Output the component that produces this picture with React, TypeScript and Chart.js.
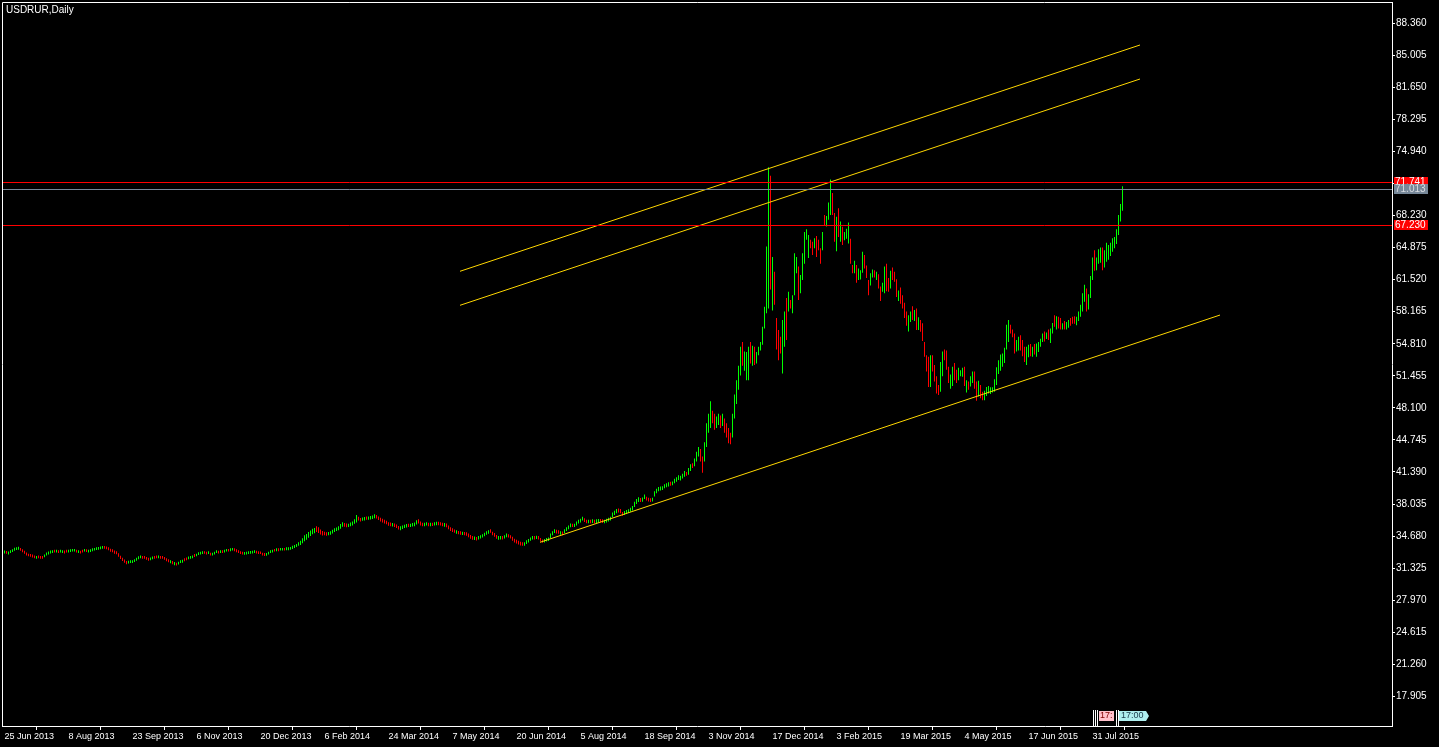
import { useEffect, useRef } from 'react';
import { Chart, registerables } from 'chart.js';

Chart.register(...registerables);

// one chunk per date label (32 daily bars each)
const dateLabels = [
  '25 Jun 2013', '8 Aug 2013', '23 Sep 2013', '6 Nov 2013', '20 Dec 2013', '6 Feb 2014',
  '24 Mar 2014', '7 May 2014', '20 Jun 2014', '5 Aug 2014', '18 Sep 2014', '3 Nov 2014',
  '17 Dec 2014', '3 Feb 2015', '19 Mar 2015', '4 May 2015', '17 Jun 2015', '31 Jul 2015',
];

const priceTicks = [
  88.36, 85.005, 81.65, 78.295, 74.94, 71.585, 68.23, 64.875, 61.52, 58.165, 54.81,
  51.455, 48.1, 44.745, 41.39, 38.035, 34.68, 31.325, 27.97, 24.615, 21.26, 17.905,
];

const lowsJun13 = [32.86, 32.84, 32.76, 32.9, 33.02, 33.14, 33.22, 33.24, 33.14, 33.0, 32.84, 32.66, 32.56, 32.52, 32.44, 32.36, 32.3, 32.36, 32.3, 32.32, 32.46, 32.66, 32.76, 32.86, 32.9, 32.96, 32.96, 32.9, 32.96, 32.9, 32.86, 32.96];
const highsJun13 = [33.16, 33.12, 33.06, 33.2, 33.3, 33.46, 33.5, 33.56, 33.44, 33.3, 33.14, 32.96, 32.84, 32.8, 32.74, 32.64, 32.6, 32.66, 32.6, 32.6, 32.76, 32.96, 33.06, 33.16, 33.2, 33.26, 33.24, 33.2, 33.26, 33.2, 33.16, 33.26];
const dirsJun13 = 'uduuuuuu dddddddd uddduuuu ududuudd';

const lowsAug13 = [32.96, 33.02, 33.06, 33.06, 32.96, 32.92, 32.86, 32.96, 33.06, 33.02, 32.96, 33.02, 33.1, 33.16, 33.22, 33.26, 33.3, 33.36, 33.36, 33.3, 33.2, 33.04, 33.0, 32.84, 32.78, 32.52, 32.28, 32.08, 31.88, 31.72, 31.8, 31.86];
const highsAug13 = [33.26, 33.3, 33.34, 33.34, 33.24, 33.2, 33.14, 33.24, 33.34, 33.3, 33.24, 33.3, 33.4, 33.44, 33.5, 33.54, 33.6, 33.64, 33.64, 33.6, 33.5, 33.36, 33.3, 33.16, 33.1, 32.88, 32.62, 32.42, 32.22, 32.06, 32.1, 32.14];
const dirsAug13 = 'uuuududd uduuuuuu uudddddd dddddduu';

const lowsSep13 = [31.86, 31.96, 32.1, 32.26, 32.36, 32.32, 32.3, 32.2, 32.1, 32.16, 32.26, 32.3, 32.36, 32.36, 32.3, 32.32, 32.2, 32.04, 31.94, 31.84, 31.74, 31.64, 31.6, 31.7, 31.86, 31.9, 32.04, 32.16, 32.26, 32.3, 32.36, 32.5];
const highsSep13 = [32.14, 32.26, 32.4, 32.56, 32.64, 32.6, 32.6, 32.5, 32.4, 32.44, 32.54, 32.6, 32.64, 32.64, 32.6, 32.6, 32.5, 32.36, 32.26, 32.16, 32.06, 31.96, 31.9, 32.0, 32.14, 32.2, 32.36, 32.44, 32.54, 32.6, 32.64, 32.8];
const dirsSep13 = 'uuuuuddd duuddudd dddududu uudduuud';

const lowsNov13 = [32.56, 32.7, 32.76, 32.8, 32.82, 32.76, 32.8, 32.66, 32.66, 32.76, 32.9, 32.86, 32.9, 32.9, 32.96, 33.06, 33.06, 33.1, 33.16, 33.1, 33.0, 32.9, 32.8, 32.76, 32.72, 32.76, 32.8, 32.84, 32.86, 32.9, 32.86, 32.8];
const highsNov13 = [32.84, 33.0, 33.04, 33.1, 33.1, 33.04, 33.1, 32.94, 32.94, 33.04, 33.2, 33.14, 33.2, 33.2, 33.24, 33.34, 33.34, 33.4, 33.44, 33.4, 33.3, 33.2, 33.1, 33.04, 33.02, 33.04, 33.1, 33.12, 33.14, 33.2, 33.14, 33.1];
const dirsNov13 = 'uuuuddud uuududuu duuddddd uuuuuudd';

const lowsDec13 = [32.8, 32.64, 32.6, 32.62, 32.76, 32.9, 32.96, 33.06, 33.1, 33.1, 33.16, 33.16, 33.16, 33.2, 33.2, 33.26, 33.34, 33.44, 33.54, 33.66, 33.76, 33.94, 34.14, 34.3, 34.5, 34.7, 34.86, 34.98, 35.1, 35.0, 34.84, 34.74];
const highsDec13 = [33.08, 32.94, 32.9, 32.92, 33.04, 33.2, 33.24, 33.34, 33.4, 33.4, 33.44, 33.44, 33.44, 33.5, 33.5, 33.54, 33.66, 33.76, 33.86, 34.04, 34.18, 34.46, 34.76, 34.9, 35.1, 35.26, 35.44, 35.54, 35.7, 35.6, 35.36, 35.2];
const dirsDec13 = 'ddduuuud uduuduuu uuuuuuuu uuuudddd';

const lowsFeb14 = [34.76, 34.72, 34.78, 34.82, 34.96, 35.1, 35.22, 35.3, 35.46, 35.66, 35.66, 35.6, 35.62, 35.7, 35.8, 35.96, 36.1, 36.3, 36.22, 36.28, 36.32, 36.38, 36.38, 36.42, 36.46, 36.54, 36.52, 36.36, 36.2, 36.1, 36.0, 35.92];
const highsFeb14 = [35.14, 35.08, 35.12, 35.18, 35.34, 35.5, 35.58, 35.7, 35.94, 36.14, 36.04, 36.0, 35.98, 36.1, 36.2, 36.44, 36.9, 36.7, 36.58, 36.62, 36.68, 36.72, 36.72, 36.78, 36.84, 36.96, 36.88, 36.74, 36.6, 36.5, 36.4, 36.28];
const dirsFeb14 = 'dduuuuuu uudduuuu udduuduu uudddddd';

const lowsMar14 = [35.76, 35.72, 35.68, 35.62, 35.52, 35.36, 35.3, 35.42, 35.52, 35.58, 35.62, 35.62, 35.68, 35.72, 35.9, 36.0, 35.8, 35.72, 35.72, 35.78, 35.72, 35.72, 35.74, 35.78, 35.82, 35.82, 35.78, 35.72, 35.66, 35.6, 35.4, 35.2];
const highsMar14 = [36.14, 36.1, 36.04, 36.0, 35.9, 35.74, 35.7, 35.8, 35.88, 35.94, 35.98, 35.98, 36.04, 36.1, 36.34, 36.44, 36.2, 36.08, 36.08, 36.14, 36.08, 36.08, 36.08, 36.12, 36.18, 36.18, 36.14, 36.08, 36.04, 36.0, 35.8, 35.6];
const dirsMar14 = 'dduddduu uuduuuud dduududu uddduddd';

const lowsMay14 = [35.1, 35.02, 34.92, 34.88, 34.82, 34.8, 34.78, 34.72, 34.56, 34.4, 34.3, 34.26, 34.22, 34.32, 34.42, 34.52, 34.66, 34.82, 34.92, 35.02, 34.76, 34.6, 34.4, 34.3, 34.32, 34.32, 34.42, 34.56, 34.52, 34.42, 34.2, 34.0];
const highsMay14 = [35.5, 35.38, 35.28, 35.22, 35.18, 35.14, 35.12, 35.08, 34.94, 34.8, 34.7, 34.64, 34.58, 34.68, 34.78, 34.88, 35.04, 35.18, 35.28, 35.4, 35.14, 35.0, 34.8, 34.7, 34.68, 34.68, 34.78, 34.94, 34.88, 34.78, 34.6, 34.4];
const dirsMay14 = 'dduddudd ddduduuu uuuddddu uduudddd';

const lowsJun14 = [33.9, 33.8, 33.7, 33.66, 33.66, 33.86, 34.02, 34.18, 34.32, 34.32, 34.38, 34.32, 34.12, 33.98, 34.02, 34.12, 34.16, 34.46, 34.76, 35.0, 34.96, 34.92, 34.82, 34.78, 35.0, 35.2, 35.4, 35.6, 35.62, 35.62, 35.8, 36.0];
const highsJun14 = [34.3, 34.2, 34.1, 34.04, 34.04, 34.24, 34.38, 34.52, 34.68, 34.68, 34.72, 34.68, 34.48, 34.32, 34.38, 34.48, 34.54, 34.94, 35.18, 35.4, 35.34, 35.28, 35.18, 35.16, 35.4, 35.6, 35.8, 36.0, 35.98, 35.98, 36.2, 36.4];
const dirsJun14 = 'dddduuuu ududdduu uuuuddud uuuuduuu';

const lowsAug14 = [36.1, 36.3, 36.16, 36.02, 36.02, 36.02, 36.06, 36.02, 36.06, 36.12, 36.12, 36.06, 36.02, 36.1, 36.2, 36.3, 36.66, 36.88, 37.08, 37.14, 37.08, 36.8, 36.9, 37.0, 37.1, 37.24, 37.36, 37.72, 38.04, 38.26, 38.24, 38.28];
const highsAug14 = [36.5, 36.7, 36.54, 36.38, 36.38, 36.38, 36.44, 36.38, 36.44, 36.48, 36.48, 36.44, 36.38, 36.5, 36.6, 36.7, 37.14, 37.32, 37.52, 37.56, 37.52, 37.2, 37.3, 37.4, 37.5, 37.66, 37.84, 38.28, 38.56, 38.74, 38.66, 38.72];
const dirsAug14 = 'uuddudud uudduuuu uuuddduu uuuuuudu';

const lowsSep14 = [38.56, 38.4, 38.3, 38.26, 38.3, 38.82, 39.16, 39.38, 39.44, 39.5, 39.68, 39.8, 39.88, 39.94, 40.0, 40.22, 40.36, 40.56, 40.5, 40.7, 40.9, 41.0, 41.1, 41.5, 41.8, 42.0, 42.5, 43.0, 42.5, 41.3, 42.5, 44.0];
const highsSep14 = [39.04, 38.8, 38.7, 38.64, 38.7, 39.38, 39.64, 39.82, 39.86, 39.9, 40.12, 40.2, 40.32, 40.36, 40.4, 40.68, 40.84, 41.04, 41.0, 41.2, 41.5, 41.4, 41.8, 42.2, 42.3, 42.8, 43.5, 44.0, 43.8, 43.0, 44.5, 46.5];
const dirsSep14 = 'uddduuuu uuuuuduu uuuuuduu duuudduu';

const lowsNov14 = [45.5, 46.0, 46.5, 45.8, 46.0, 46.3, 46.0, 46.2, 45.5, 45.0, 44.4, 44.3, 45.0, 47.0, 48.5, 50.0, 51.5, 52.5, 52.0, 51.0, 51.0, 52.75, 52.5, 52.6, 52.75, 53.6, 54.1, 54.7, 56.4, 58.0, 58.5, 60.5];
const highsNov14 = [47.5, 48.8, 47.8, 47.5, 47.2, 47.5, 47.3, 47.5, 47.0, 46.5, 46.0, 45.5, 47.5, 49.5, 51.0, 52.5, 54.5, 55.0, 54.0, 53.95, 54.5, 55.0, 54.6, 54.5, 53.95, 54.5, 55.0, 56.6, 58.7, 65.0, 73.3, 72.4];
const dirsNov14 = 'uudduudu dddduuuu uduuudud uuuuuuud';

const lowsDec14 = [58.3, 58.9, 54.2, 53.1, 53.8, 51.7, 54.5, 55.2, 58.2, 58.5, 58.0, 59.9, 62.2, 59.4, 60.1, 61.5, 63.2, 65.7, 63.8, 64.8, 64.1, 64.8, 63.9, 64.6, 63.2, 64.6, 67.2, 67.1, 67.8, 68.3, 68.3, 65.5];
const highsDec14 = [63.9, 62.35, 57.5, 56.25, 55.55, 57.3, 58.2, 59.6, 60.25, 59.4, 59.9, 64.3, 63.9, 62.9, 62.0, 64.3, 66.5, 66.8, 66.2, 65.7, 65.5, 65.85, 66.1, 65.7, 64.8, 66.5, 68.3, 68.2, 69.6, 72.0, 70.6, 68.5];
const dirsDec14 = 'udddduud uduuuduu uuuddudd duduuudd';

const lowsFeb15 = [64.5, 66.0, 65.5, 65.15, 65.65, 65.8, 65.3, 63.2, 62.2, 62.2, 61.2, 61.5, 61.55, 62.25, 62.7, 61.7, 59.9, 60.9, 61.75, 61.75, 61.5, 60.6, 59.3, 60.25, 60.1, 60.3, 60.25, 60.6, 61.5, 61.3, 59.7, 59.3];
const highsFeb15 = [68.1, 69.0, 67.6, 67.07, 66.5, 66.85, 67.5, 65.8, 63.06, 63.5, 63.06, 62.7, 62.5, 64.45, 64.1, 63.0, 61.5, 62.2, 62.6, 62.5, 62.35, 62.1, 60.8, 61.2, 62.9, 63.2, 61.7, 62.45, 62.8, 62.35, 61.56, 60.4];
const dirsFeb15 = 'ududuuud duduuudd duududdu uddudddu';

const lowsMar15 = [59.0, 58.5, 57.5, 56.7, 56.1, 57.1, 57.3, 57.2, 56.25, 56.25, 56.07, 55.1, 53.45, 51.9, 50.3, 50.3, 51.9, 50.85, 49.6, 49.45, 49.8, 51.4, 53.1, 52.1, 50.7, 50.1, 50.4, 51.0, 50.7, 51.0, 51.4, 51.35];
const highsMar15 = [60.7, 59.9, 59.1, 58.2, 57.8, 58.2, 58.75, 58.35, 58.5, 57.6, 57.3, 56.95, 55.0, 53.6, 53.45, 53.6, 53.6, 52.6, 51.4, 50.5, 52.9, 54.0, 54.2, 54.1, 52.4, 51.6, 52.4, 52.8, 52.1, 52.3, 52.05, 52.3];
const dirsMar15 = 'dddduudu dudddddu dddduudd duudduuu';

const lowsMay15 = [50.4, 49.7, 50.0, 50.35, 50.7, 50.1, 48.85, 49.3, 49.1, 48.9, 48.9, 49.35, 49.6, 49.55, 49.7, 49.8, 50.5, 51.65, 52.0, 52.4, 52.8, 54.2, 55.0, 55.9, 55.5, 53.8, 54.0, 54.1, 54.1, 53.5, 52.9, 52.6];
const highsMay15 = [52.4, 51.0, 50.85, 51.4, 51.9, 51.9, 50.85, 50.95, 50.5, 49.8, 49.9, 50.3, 50.4, 50.25, 50.25, 51.1, 52.35, 53.1, 53.7, 53.8, 54.4, 56.8, 57.3, 56.8, 56.3, 55.9, 55.2, 55.55, 55.7, 55.2, 54.5, 54.5];
const dirsMay15 = 'duduuddu dduuuuuu uuuuuuud dduudddu';

const lowsJun15 = [53.4, 53.5, 53.45, 53.7, 53.45, 53.95, 54.5, 55.0, 55.05, 55.3, 55.2, 54.9, 55.9, 56.6, 56.3, 56.4, 56.3, 56.3, 56.3, 56.3, 56.5, 56.7, 56.9, 56.9, 56.75, 57.2, 57.65, 58.2, 59.2, 58.2, 58.4, 59.6];
const highsJun15 = [54.7, 54.8, 54.5, 54.8, 54.85, 55.0, 55.35, 55.9, 56.1, 56.0, 56.3, 56.4, 57.0, 57.8, 57.7, 57.65, 57.5, 56.95, 57.2, 57.1, 57.3, 57.5, 57.65, 57.7, 57.65, 58.2, 58.9, 60.1, 61.0, 60.6, 60.0, 61.9];
const dirsJun15 = 'ududuuuu duduudud duduuddd uuuuuduu';

const lowsJul15 = [61.5, 62.45, 62.5, 63.2, 63.3, 62.5, 62.8, 63.4, 63.6, 64.0, 64.45, 64.8, 65.25, 66.2, 67.6, 68.75];
const highsJul15 = [63.85, 64.6, 63.85, 64.7, 64.9, 64.9, 64.6, 65.4, 65.15, 65.4, 65.85, 66.0, 66.8, 68.3, 69.45, 71.3];
const dirsJul15 = 'uduuuduu uuuuuuuu';

// channel lines: [bar index, price] end points
const channelTop = [[227.75, 62.4], [567.75, 86.09]];
const channelMid = [[227.75, 58.84], [567.75, 82.53]];
const channelLow = [[267.75, 34.03], [607.75, 57.82]];

// horizontal levels on the right axis
const levels = [
  { value: 71.741, color: '#FF0000', text: '#FFFFFF' },
  { value: 71.013, color: '#778899', text: '#D8DCE0' },
  { value: 67.23, color: '#FF0000', text: '#FFFFFF' },
];

const chunks = [
  [lowsJun13, highsJun13, dirsJun13], [lowsAug13, highsAug13, dirsAug13],
  [lowsSep13, highsSep13, dirsSep13], [lowsNov13, highsNov13, dirsNov13],
  [lowsDec13, highsDec13, dirsDec13], [lowsFeb14, highsFeb14, dirsFeb14],
  [lowsMar14, highsMar14, dirsMar14], [lowsMay14, highsMay14, dirsMay14],
  [lowsJun14, highsJun14, dirsJun14], [lowsAug14, highsAug14, dirsAug14],
  [lowsSep14, highsSep14, dirsSep14], [lowsNov14, highsNov14, dirsNov14],
  [lowsDec14, highsDec14, dirsDec14], [lowsFeb15, highsFeb15, dirsFeb15],
  [lowsMar15, highsMar15, dirsMar15], [lowsMay15, highsMay15, dirsMay15],
  [lowsJun15, highsJun15, dirsJun15], [lowsJul15, highsJul15, dirsJul15],
] as [number[], number[], string][];

const FONT = "'Liberation Sans', Arial, sans-serif";

function buildBars() {
  const bars: { x: number; y: [number, number]; up: boolean }[] = [];
  chunks.forEach(([lows, highs, dirs], c) => {
    const d = dirs.replace(/ /g, '');
    lows.forEach((lo, j) => {
      bars.push({ x: c * 32 + j, y: [lo, highs[j]], up: d[j] !== 'd' });
    });
  });
  return bars;
}

const overlayPlugin = {
  id: 'mtOverlay',
  afterDatasetsDraw(chart: any) {
    const { ctx, chartArea } = chart;
    const y = chart.scales.y;
    ctx.save();
    ctx.lineWidth = 1;
    levels.forEach((l) => {
      const py = Math.round(y.getPixelForValue(l.value)) + 0.5;
      ctx.strokeStyle = l.color;
      ctx.beginPath();
      ctx.moveTo(chartArea.left, py);
      ctx.lineTo(chartArea.right, py);
      ctx.stroke();
    });
    ctx.restore();
  },
  afterDraw(chart: any) {
    const { ctx, chartArea } = chart;
    const y = chart.scales.y;
    const x = chart.scales.x;
    ctx.save();
    // frame: left and top edges (right/bottom come from the axes)
    ctx.strokeStyle = '#FFFFFF';
    ctx.lineWidth = 1;
    ctx.beginPath();
    ctx.moveTo(chartArea.left + 0.5, chartArea.bottom);
    ctx.lineTo(chartArea.left + 0.5, chartArea.top + 0.5);
    ctx.lineTo(chartArea.right, chartArea.top + 0.5);
    ctx.stroke();

    // title
    ctx.fillStyle = '#FFFFFF';
    ctx.font = `10px ${FONT}`;
    ctx.textBaseline = 'middle';
    ctx.textAlign = 'left';
    ctx.fillText('USDRUR,Daily', 6, 10);

    // price tags
    levels.forEach((l) => {
      const py = Math.round(y.getPixelForValue(l.value));
      ctx.fillStyle = l.color;
      ctx.fillRect(chartArea.right + 2, py - 5, 34, 10);
      ctx.fillStyle = l.text;
      ctx.font = `10px ${FONT}`;
      ctx.fillText(l.value.toFixed(3), chartArea.right + 3, py + 0.5);
    });

    // time markers near the bottom axis
    const x0 = Math.round(x.getPixelForValue(544));
    const by = chartArea.bottom;
    ctx.strokeStyle = '#FFFFFF';
    [0, 2, 4, 23, 25].forEach((dx) => {
      ctx.beginPath();
      ctx.moveTo(x0 + dx + 0.5, by - 16);
      ctx.lineTo(x0 + dx + 0.5, by);
      ctx.stroke();
    });
    ctx.fillStyle = '#FFC0CB';
    ctx.fillRect(x0 + 6, by - 15, 15, 10);
    ctx.fillStyle = '#AFEEEE';
    ctx.beginPath();
    ctx.moveTo(x0 + 26, by - 15);
    ctx.lineTo(x0 + 53, by - 15);
    ctx.lineTo(x0 + 56, by - 10);
    ctx.lineTo(x0 + 53, by - 5);
    ctx.lineTo(x0 + 26, by - 5);
    ctx.closePath();
    ctx.fill();
    ctx.font = `9px ${FONT}`;
    ctx.fillStyle = '#800000';
    ctx.fillText('17:', x0 + 7, by - 10);
    ctx.fillStyle = '#204050';
    ctx.fillText('17:00', x0 + 28, by - 10);
    ctx.restore();
  },
};

export default function App() {
  const canvasRef = useRef<HTMLCanvasElement | null>(null);
  const chartRef = useRef<Chart | null>(null);

  useEffect(() => {
    document.body.style.margin = '0';
    document.body.style.background = '#000';
    if (!canvasRef.current) return;
    if (chartRef.current) chartRef.current.destroy();

    const bars = buildBars();
    const toLine = (pts: number[][]) => pts.map(([px, py]) => ({ x: px, y: py }));
    const channel = (pts: number[][]) => ({
      type: 'line',
      data: toLine(pts),
      borderColor: '#FFD700',
      borderWidth: 1,
      pointRadius: 0,
      order: 1,
    });

    chartRef.current = new Chart(canvasRef.current, {
      type: 'bar',
      data: {
        datasets: [
          channel(channelTop),
          channel(channelMid),
          channel(channelLow),
          {
            type: 'bar',
            data: bars as any,
            backgroundColor: (c: any) => (c.raw && c.raw.up ? '#00FF00' : '#FF0000'),
            borderWidth: 0,
            barThickness: 1,
            inflateAmount: 0,
            order: 2,
          },
        ] as any,
      },
      options: {
        responsive: false,
        animation: false,
        devicePixelRatio: 1,
        events: [],
        layout: { padding: { left: 2, top: 2, right: 0, bottom: 0 } },
        plugins: { legend: { display: false }, tooltip: { enabled: false }, title: { display: false } },
        scales: {
          x: {
            type: 'linear',
            min: -1.25,
            max: 693.75,
            offset: false,
            grid: { display: true, drawOnChartArea: false, drawTicks: true, tickLength: 4, color: '#FFFFFF' },
            border: { display: true, color: '#FFFFFF' },
            ticks: {
              color: '#FFFFFF',
              font: { family: FONT, size: 9 },
              align: 'start',
              autoSkip: false,
              maxRotation: 0,
              padding: 1,
              callback: (_v: any, i: number) => dateLabels[i],
            },
            afterBuildTicks: (s: any) => {
              s.ticks = dateLabels.map((_, k) => ({ value: k * 32 }));
            },
            afterFit: (s: any) => {
              s.height = 21;
              s.paddingLeft = 0;
              s.paddingRight = 0;
            },
          },
          y: {
            type: 'linear',
            position: 'right',
            min: 14.8,
            max: 90.59,
            grid: { display: true, drawOnChartArea: false, drawTicks: true, tickLength: 3, color: '#FFFFFF' },
            border: { display: true, color: '#FFFFFF' },
            ticks: {
              color: '#FFFFFF',
              font: { family: FONT, size: 10 },
              padding: 1,
              callback: (v: any) => Number(v).toFixed(3),
            },
            afterBuildTicks: (s: any) => {
              s.ticks = priceTicks.map((v) => ({ value: v }));
            },
            afterFit: (s: any) => {
              s.width = 47;
              s.paddingTop = 0;
              s.paddingBottom = 0;
            },
          },
        },
      } as any,
      plugins: [overlayPlugin],
    });

    return () => {
      if (chartRef.current) {
        chartRef.current.destroy();
        chartRef.current = null;
      }
    };
  }, []);

  return (
    <div style={{ width: 1439, height: 747, background: '#000' }}>
      <canvas ref={canvasRef} width={1439} height={747} style={{ display: 'block' }} />
    </div>
  );
}
